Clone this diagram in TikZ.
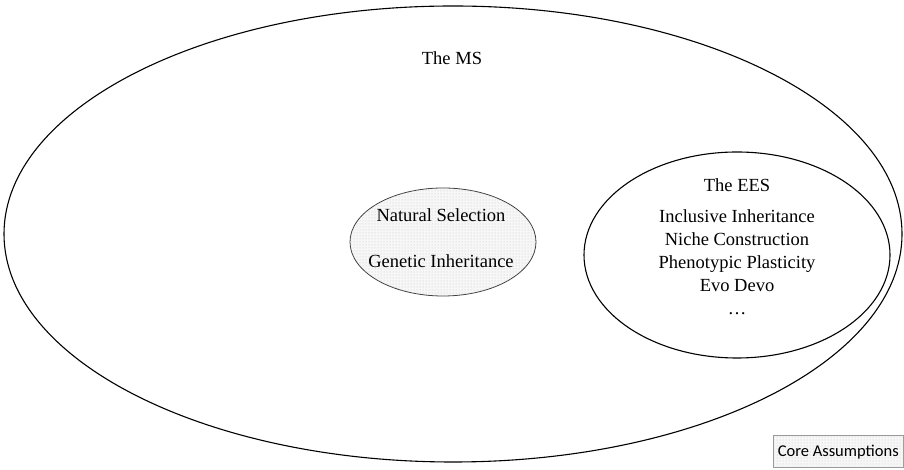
\documentclass[tikz,border=0pt]{standalone}
\usepackage{fontspec}
\setmainfont{Liberation Serif}
\newfontfamily\calfont{Carlito}
\usetikzlibrary{patterns}

\begin{document}
\begin{tikzpicture}[
x = 1pt, y = 1pt,
every node/.style = {font=\fontsize{18.5}{22}\selectfont},
ring/.style = {draw, line width=1.1pt},
dotted fill/.style = {fill=gray!6, postaction={pattern=dots, pattern color=gray!45}},
label box/.style = {draw=gray!80, line width=0.6pt, dotted fill, inner xsep=5pt, inner ysep=9pt, font=\calfont\fontsize{16.5}{18}\selectfont}
]
\useasboundingbox (0,0) rectangle (904,470);
% outer set
\draw[ring] (453,236) ellipse [x radius=449, y radius=228];
\node (ms) at (452,412) {The MS};
% core assumptions
\draw[ring, line width=0.8pt, draw=black!75, dotted fill] (443,228) ellipse [x radius=93, y radius=54];
\node (ns) at (441,255) {Natural Selection};
\node (gi) at (441,209) {Genetic Inheritance};
% extension
\draw[ring] (737,215) ellipse [x radius=153, y radius=103];
\node (ees) at (737,285) {The EES};
\node[align=center, font=\fontsize{18.5}{23}\selectfont] (list) at (737,208)
	{Inclusive Inheritance\\Niche Construction\\Phenotypic Plasticity\\Evo Devo\\\dots};
% legend
\node[label box, anchor=south east] (core) at (904,2) {Core Assumptions};
\end{tikzpicture}
\end{document}
